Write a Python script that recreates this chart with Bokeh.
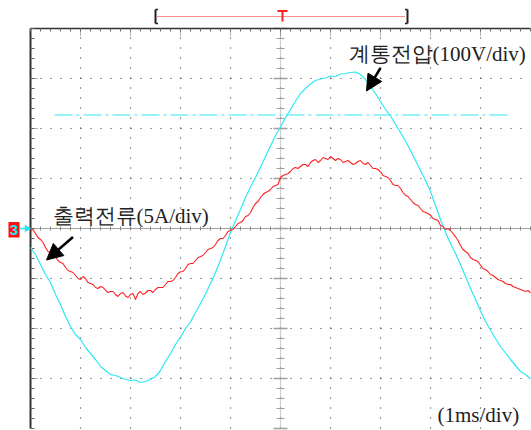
import numpy as np
from bokeh.plotting import figure
from bokeh.models import Range1d, Arrow, NormalHead
from bokeh.core.properties import value
from bokeh.embed import file_html
from bokeh.resources import INLINE

# ---------------- data ----------------
time_v_ms = [round(i * 0.1, 1) for i in range(101)]
time_i_ms = [round(i * 0.05, 2) for i in range(201)]

grid_voltage_V = [
    -38, -52, -72, -92, -108, -132, -152, -176, -196, -212,
    -222, -238, -250, -262, -276, -284, -292, -294, -298, -302,
    -304, -303, -308, -306, -302, -296, -284, -266, -250, -232,
    -217, -200, -187, -168, -150, -131, -110, -88, -63, -36,
    -8, 16, 38, 62, 83, 102, 123, 144, 165, 186,
    203, 222, 238, 255, 270, 280, 289, 296, 299, 301,
    305, 304, 309, 310, 312, 313, 308, 298, 284, 270,
    254, 238, 225, 208, 192, 175, 156, 136, 116, 96,
    74, 46, 18, -8, -30, -50, -72, -96, -120, -142,
    -165, -186, -203, -220, -236, -249, -262, -274, -286, -292,
    -301,
]

output_current_A = [
    -0.17, -0.1, -0.5, -0.9, -1.1, -1.4, -1.9, -2.3, -2.4, -2.5,
    -2.83, -3.2, -3.4, -3.5, -3.9, -4.2, -4.3, -4.4, -4.7, -5.0,
    -5.1, -4.8, -5.0, -5.4, -5.5, -5.6, -5.9, -6.0, -5.8, -5.9,
    -6.17, -6.4, -6.3, -6.3, -6.6, -6.8, -6.5, -6.4, -6.75, -6.9,
    -6.6, -6.5, -7.1, -6.5, -6.3, -6.6, -6.45, -6.2, -6.2, -6.4,
    -6.1, -5.9, -5.9, -5.9, -5.6, -5.3, -5.3, -5.2, -4.9, -4.5,
    -4.33, -4.3, -4.0, -3.6, -3.5, -3.5, -3.2, -2.9, -2.8, -2.7,
    -2.4, -2.1, -2.0, -1.9, -1.6, -1.2, -1.0, -1.0, -0.7, -0.3,
    -0.17, -0.1, 0.2, 0.5, 0.6, 0.8, 1.2, 1.3, 1.6, 2.1,
    2.5, 2.7, 3.1, 3.4, 3.6, 3.7, 3.9, 4.2, 4.3, 4.4,
    5.1, 5.3, 5.4, 5.5, 5.7, 6.0, 6.1, 6.0, 6.2, 6.4,
    6.4, 6.2, 6.6, 6.8, 6.9, 6.6, 6.8, 7.1, 7.0, 6.9,
    7.2, 7.0, 6.8, 7.0, 6.9, 6.6, 6.7, 6.8, 6.6, 6.4,
    6.5, 6.7, 6.8, 6.5, 6.4, 6.6, 6.3, 6.0, 6.0, 5.9,
    5.67, 5.3, 5.2, 5.1, 4.8, 4.4, 4.3, 4.3, 4.0, 3.6,
    3.33, 3.2, 2.9, 2.6, 2.4, 2.3, 2.0, 1.7, 1.6, 1.5,
    1.33, 1.0, 0.9, 0.8, 0.3, 0.2, -0.1, 0.0, -0.2, -0.5,
    -0.83, -1.2, -1.7, -2.1, -2.3, -2.5, -2.9, -3.1, -3.2, -3.3,
    -3.67, -4.0, -4.1, -4.3, -4.6, -4.7, -4.9, -5.1, -5.2, -5.3,
    -5.5, -5.6, -5.6, -5.8, -5.9, -6.0, -6.1, -6.2, -6.3, -6.2,
    -6.43,
]

VOLT_PER_DIV = 100
AMP_PER_DIV = 5

trigger_level_V = 227
trigger_line_ms = [0.48, 9.54]
record_window_ms = [2.5, 7.54]
trigger_time_ms = 5.04

voltage_label = "계통전압(100V/div)"
current_label = "출력전류(5A/div)"
time_label = "(1ms/div)"

CYAN = "#2ee9f3"
RED = "#ff1f1f"
TXT = "#222222"
GRID = "#3a3a3a"

# ---------------- figure ----------------
p = figure(width=531, height=430, output_backend="svg", toolbar_location=None,
           x_axis_type=None, y_axis_type=None,
           x_range=Range1d(-0.6, 10.02), y_range=Range1d(-4.04, 4.56),
           min_border=0)
p.min_border_left = p.min_border_right = p.min_border_top = p.min_border_bottom = 0
p.outline_line_color = None
p.background_fill_color = "white"

n_xdiv, n_ydiv = 10, 4
major_x = np.arange(1, n_xdiv)
major_y = np.array([-3, -2, -1, 1, 2, 3])
minor_x = np.round(np.arange(0, n_xdiv + 0.001, 0.2), 2)
minor_y = np.round(np.arange(-n_ydiv, n_ydiv + 0.001, 0.2), 2)

# dotted graticule
p.segment(x0=major_x, y0=-n_ydiv, x1=major_x, y1=n_ydiv,
          line_color=GRID, line_width=1.2, line_dash="1 9")
p.segment(x0=0, y0=major_y, x1=n_xdiv, y1=major_y,
          line_color=GRID, line_width=1.2, line_dash="1 9")

# centre cross-hair
p.segment(x0=0, y0=0, x1=n_xdiv, y1=0, line_color="#444444", line_width=1, line_dash="1 1")
p.segment(x0=minor_x, y0=-0.04, x1=minor_x, y1=0.04, line_color="#888888", line_width=1)
p.segment(x0=5, y0=-n_ydiv, x1=5, y1=n_ydiv, line_color="#a0a0a0", line_width=1.2, line_dash="1 1")
p.segment(x0=4.92, y0=minor_y, x1=5.08, y1=minor_y, line_color="#a0a0a0", line_width=1)
maj_c = np.arange(-n_ydiv, n_ydiv + 1)
p.segment(x0=4.86, y0=maj_c, x1=5.14, y1=maj_c, line_color="#a0a0a0", line_width=1.5)

# borders and border ticks
p.segment(x0=0, y0=n_ydiv, x1=n_xdiv, y1=n_ydiv, line_color="#333333", line_width=1.3)
p.segment(x0=0, y0=-n_ydiv, x1=0, y1=n_ydiv, line_color="#333333", line_width=2)
p.segment(x0=minor_x, y0=n_ydiv, x1=minor_x, y1=n_ydiv - 0.06, line_color="#666666", line_width=1)
p.segment(x0=major_x, y0=n_ydiv, x1=major_x, y1=n_ydiv - 0.16, line_color="#666666",
          line_width=1, line_dash="1 1")
p.segment(x0=0, y0=minor_y, x1=0.08, y1=minor_y, line_color="#666666", line_width=1)
p.segment(x0=0, y0=major_y, x1=0.16, y1=major_y, line_color="#666666", line_width=1, line_dash="1 1")

# trigger level
p.line(trigger_line_ms, [trigger_level_V / VOLT_PER_DIV] * 2, line_color=CYAN,
       line_width=1, line_dash="18 4 3 4")

# traces
p.line(time_v_ms, [v / VOLT_PER_DIV for v in grid_voltage_V], line_color=CYAN, line_width=1.2)
p.line(time_i_ms, [a / AMP_PER_DIV for a in output_current_A], line_color=RED, line_width=1.1)

# record window marker on top
w0, w1 = record_window_ms
p.segment(x0=w0 + 0.04, y0=4.24, x1=w1 - 0.04, y1=4.24, line_color=RED, line_width=1, line_dash="1 1")
p.segment(x0=[w0, w1], y0=4.10, x1=[w0, w1], y1=4.38, line_color="#222222", line_width=2)
p.segment(x0=[w0, w0, w1, w1], y0=[4.38, 4.10, 4.38, 4.10],
          x1=[w0 + 0.05, w0 + 0.05, w1 - 0.05, w1 - 0.05], y1=[4.38, 4.10, 4.38, 4.10],
          line_color="#222222", line_width=1.5)
p.segment(x0=trigger_time_ms - 0.1, y0=4.35, x1=trigger_time_ms + 0.1, y1=4.35,
          line_color=RED, line_width=2)
p.segment(x0=trigger_time_ms, y0=4.14, x1=trigger_time_ms, y1=4.35, line_color=RED, line_width=2)

# channel ground marker "3->"
p.quad(left=-0.44, right=-0.22, top=0.13, bottom=-0.18, fill_color="#ff1010", line_color=None)
p.text(x=[-0.33], y=[-0.03], text=["3"], text_align="center", text_baseline="middle",
       text_font=value("Liberation Sans"), text_font_style="bold", text_font_size="15px",
       text_color="#1fe6f0")
p.segment(x0=-0.22, y0=0, x1=-0.08, y1=0, line_color="#1fe6f0", line_width=1.5)
p.scatter(x=[-0.07], y=[0], marker="triangle", angle=-np.pi / 2, size=6,
          fill_color="#1fe6f0", line_color="#1fe6f0")

# annotations
p.text(x=[6.36], y=[3.49], text=[voltage_label], text_baseline="middle",
       text_font=value("Liberation Serif"), text_font_size="21px", text_color=TXT)
p.text(x=[0.44], y=[0.26], text=[current_label], text_baseline="middle",
       text_font=value("Liberation Serif"), text_font_size="21px", text_color=TXT)
p.text(x=[8.14], y=[-3.72], text=[time_label], text_baseline="middle",
       text_font=value("Liberation Serif"), text_font_size="21px", text_color=TXT)

p.add_layout(Arrow(x_start=7.0, y_start=3.21, x_end=6.72, y_end=2.75, line_width=2.5,
                   line_color="black",
                   end=NormalHead(size=16, fill_color="black", line_color="black")))
p.add_layout(Arrow(x_start=0.85, y_start=-0.17, x_end=0.32, y_end=-0.63, line_width=2.5,
                   line_color="black",
                   end=NormalHead(size=16, fill_color="black", line_color="black")))

open("out.html", "w").write(file_html(p, INLINE))
